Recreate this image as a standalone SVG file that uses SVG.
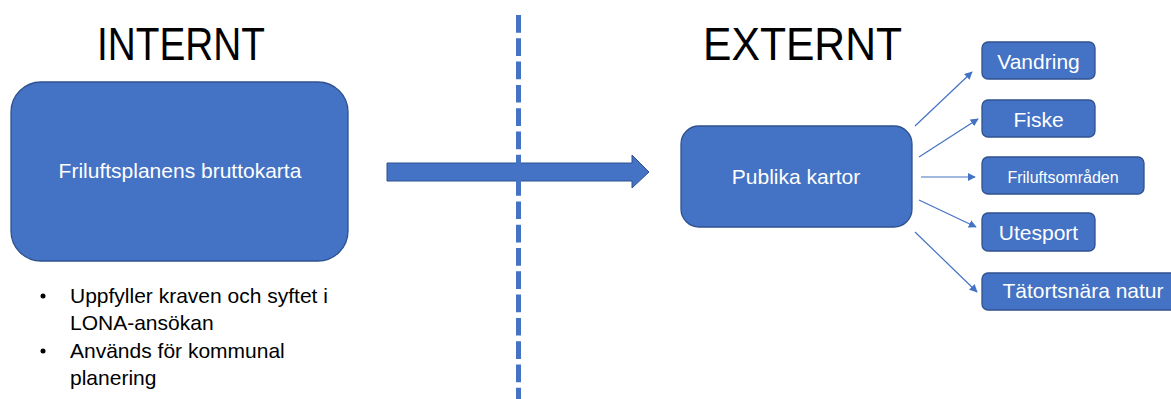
<svg xmlns="http://www.w3.org/2000/svg" width="1171" height="399" viewBox="0 0 1171 399">
<style>
.box{fill:#4472C4;stroke:#2F528F;stroke-width:1.3}
.lbl{font-family:"Liberation Sans",Arial,sans-serif;fill:#ffffff;text-anchor:middle}
.title{font-family:"Liberation Sans",Arial,sans-serif;fill:#000000;font-size:47px}
.body{font-family:"Liberation Sans",Arial,sans-serif;fill:#000000;font-size:21px}
.conn{stroke:#4472C4;stroke-width:1.2;fill:none;marker-end:url(#ah)}
</style>
<defs>
<marker id="ah" viewBox="0 0 10 10" refX="9" refY="5" markerWidth="8" markerHeight="8" markerUnits="userSpaceOnUse" orient="auto">
<path d="M0,0 L10,5 L0,10 z" fill="#4472C4"/>
</marker>
</defs>
<rect width="1171" height="399" fill="#ffffff"/>
<text class="title" x="97" y="60" textLength="168" lengthAdjust="spacingAndGlyphs">INTERNT</text>
<text class="title" x="703" y="60" textLength="199" lengthAdjust="spacingAndGlyphs">EXTERNT</text>
<g id="bruttokarta">
<rect class="box" x="11" y="82" width="337" height="179" rx="30" ry="30"/>
<text class="lbl" x="180" y="178" font-size="21">Friluftsplanens bruttokarta</text>
</g>
<g id="bullets">
<circle cx="43" cy="296" r="2.5" fill="#000"/>
<text class="body" x="70" y="303">Uppfyller kraven och syftet i</text>
<text class="body" x="70" y="330">LONA-ansökan</text>
<circle cx="43" cy="351" r="2.5" fill="#000"/>
<text class="body" x="70" y="358">Används för kommunal</text>
<text class="body" x="70" y="385">planering</text>
</g>
<g id="big-arrow">
<path d="M387,163 L632,163 L632,155 L649,172 L632,188 L632,181 L387,181 z" fill="#4472C4" stroke="#2F528F" stroke-width="1"/>
</g>
<g id="divider">
<line x1="518.5" y1="15" x2="518.5" y2="399" stroke="#4472C4" stroke-width="5" stroke-dasharray="17.7 5.6"/>
</g>
<g id="publika">
<rect class="box" x="681" y="126" width="231" height="101" rx="18" ry="18"/>
<text class="lbl" x="796" y="184" font-size="21">Publika kartor</text>
</g>
<g id="vandring">
<rect class="box" x="982" y="42" width="113" height="37" rx="6" ry="6"/>
<text class="lbl" x="1038.5" y="69" font-size="21">Vandring</text>
</g>
<g id="fiske">
<rect class="box" x="982" y="100" width="113" height="37" rx="6" ry="6"/>
<text class="lbl" x="1038.5" y="127" font-size="21">Fiske</text>
</g>
<g id="friluftsomraden">
<rect class="box" x="982" y="157" width="162" height="37" rx="6" ry="6"/>
<text class="lbl" x="1063" y="183" font-size="16">Friluftsområden</text>
</g>
<g id="utesport">
<rect class="box" x="982" y="213" width="113" height="38" rx="6" ry="6"/>
<text class="lbl" x="1038.5" y="240" font-size="21">Utesport</text>
</g>
<g id="tatortsnara">
<rect class="box" x="982" y="273" width="200" height="37" rx="6" ry="6"/>
<text class="lbl" x="1083" y="298" font-size="21">Tätortsnära natur</text>
</g>
<g id="connectors">
<line class="conn" x1="915" y1="126" x2="972" y2="72"/>
<line class="conn" x1="919" y1="157" x2="978" y2="119"/>
<line class="conn" x1="921" y1="177" x2="975" y2="177"/>
<line class="conn" x1="919" y1="200" x2="976" y2="227"/>
<line class="conn" x1="915" y1="232" x2="977" y2="292"/>
</g>
</svg>
